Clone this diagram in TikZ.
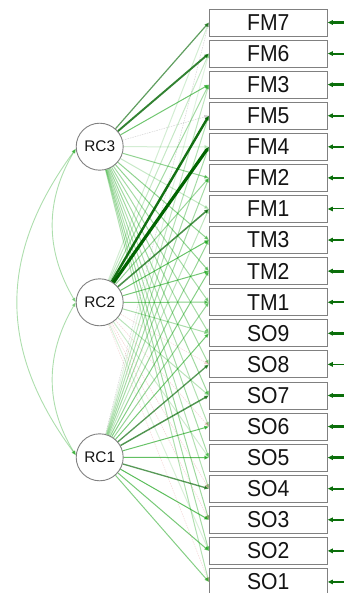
\documentclass[tikz,border=0pt]{standalone}
\usepackage{fontspec}
\setmainfont{Liberation Sans}
\usetikzlibrary{arrows.meta}

\definecolor{strongedge}{RGB}{0,100,0}
\definecolor{weakedge}{RGB}{0,153,0}
\definecolor{negedge}{RGB}{205,70,70}
\definecolor{boxline}{RGB}{128,128,128}
\definecolor{resedge}{RGB}{10,110,10}
\definecolor{labeltext}{RGB}{20,20,20}

\tikzset{
  manifest/.style={draw=boxline, line width=0.9pt, minimum width=118pt,
    minimum height=27pt, inner sep=0pt, fill=white, text=labeltext,
    font=\fontsize{23}{23}\selectfont},
  latent/.style={circle, draw=boxline, line width=0.9pt, minimum size=47pt,
    inner sep=0pt, fill=white, text=labeltext,
    font=\fontsize{15.4}{15.4}\selectfont},
  tipped/.style={-{Triangle[length=4.5pt,width=3.6pt]}},
  resid/.style={draw=resedge, -{Triangle[length=5pt,width=4.4pt]}},
  covar/.style={draw=weakedge, opacity=0.32, line width=0.9pt,
    {Triangle[length=4.5pt,width=3.6pt]}-{Triangle[length=4.5pt,width=3.6pt]}},
}

% slightly condensed label text for the indicator boxes
\newcommand\boxtext[1]{\scalebox{0.92}[1]{#1}}

% one loading edge: pass, factor, indicator, loading
\newcommand\ldedge[4]{%
  \pgfmathsetmacro\lv{abs(#4)}%
  \ifnum#1=1
    \ifdim\lv pt<0.55pt
      \ifdim #4pt<0pt
        \pgfmathsetmacro\lop{0.12+\lv*0.9}%
        \draw[tipped, draw=negedge, opacity=\lop, line width=0.6pt,
          dash pattern=on 1.5pt off 1pt] (#2) -- (#3.west);
      \else\ifdim\lv pt<0.12pt
        \draw[tipped, draw=gray, opacity=0.35, line width=0.5pt,
          dash pattern=on 1.5pt off 1pt] (#2) -- (#3.west);
      \else
        \pgfmathsetmacro\lop{0.12+(\lv-0.12)*1.3}%
        \draw[tipped, draw=weakedge, opacity=\lop, line width=1pt]
          (#2) -- (#3.west);
      \fi\fi
    \fi
  \else
    \ifdim\lv pt<0.55pt\else
      \pgfmathsetmacro\lw{0.9+(\lv-0.55)*6}%
      \pgfmathsetmacro\lop{min(1,0.55+(\lv-0.55)*1.5)}%
      \draw[tipped, draw=strongedge, opacity=\lop, line width=\lw pt]
        (#2) -- (#3.west);
    \fi
  \fi
}

\begin{document}
\begin{tikzpicture}[x=1pt, y=-1pt]
\useasboundingbox (0,0) rectangle (344,593);

% indicators
\foreach \nm [count=\i from 0] in
  {FM7,FM6,FM3,FM5,FM4,FM2,FM1,TM3,TM2,TM1,SO9,SO8,SO7,SO6,SO5,SO4,SO3,SO2,SO1}
  \node[manifest] (\nm) at (268.3, {22.5+31.08*\i}) {\boxtext{\nm}};

% factors
\node[latent] (RC3) at (99.7,146.7) {RC3};
\node[latent] (RC2) at (99.7,302.3) {RC2};
\node[latent] (RC1) at (99.7,457.3) {RC1};

% loadings: indicator / RC3 / RC2 / RC1
\foreach \pass in {1,2}{
  \foreach \tg/\a/\b/\c in {
    FM7/0.60/0.16/0.10, FM6/0.72/0.20/0.12, FM3/0.46/0.30/0.22,
    FM5/0.05/0.80/0.26, FM4/0.16/0.92/0.30, FM2/0.36/0.34/0.30,
    FM1/0.20/0.66/0.22, TM3/0.36/0.48/0.34, TM2/0.36/0.44/0.40,
    TM1/0.30/0.40/0.34, SO9/0.30/0.28/0.44, SO8/0.30/-0.08/0.62,
    SO7/0.32/0.24/0.64, SO6/0.26/-0.10/0.48, SO5/0.30/0.18/0.50,
    SO4/0.26/-0.12/0.62, SO3/0.32/-0.10/0.52, SO2/0.30/0.14/0.44,
    SO1/0.26/-0.08/0.40}{
    \ldedge{\pass}{RC3}{\tg}{\a}
    \ldedge{\pass}{RC2}{\tg}{\b}
    \ldedge{\pass}{RC1}{\tg}{\c}
  }
}

% residual variances
\foreach \nm/\w in {FM7/2.2, FM6/2.1, FM3/2.4, FM5/2.4, FM4/2.1, FM2/1.6,
    FM1/1.0, TM3/2.1, TM2/2.8, TM1/2.1, SO9/2.8, SO8/1.6, SO7/2.4,
    SO6/2.4, SO5/2.4, SO4/1.6, SO3/1.7, SO2/2.1, SO1/2.8}{
  \coordinate (r\nm) at ([xshift=17pt]\nm.east);
  \draw[resid, line width=\w pt] (r\nm) -- (\nm.east);
}

% factor covariances
\draw[covar] (RC3.185) .. controls (45,200) and (45,250) .. (RC2.180);
\draw[covar] (RC2.180) .. controls (45,355) and (45,405) .. (RC1.175);
\draw[covar] (RC3.185) .. controls (-2,255) and (-2,350) .. (RC1.175);
\end{tikzpicture}
\end{document}
